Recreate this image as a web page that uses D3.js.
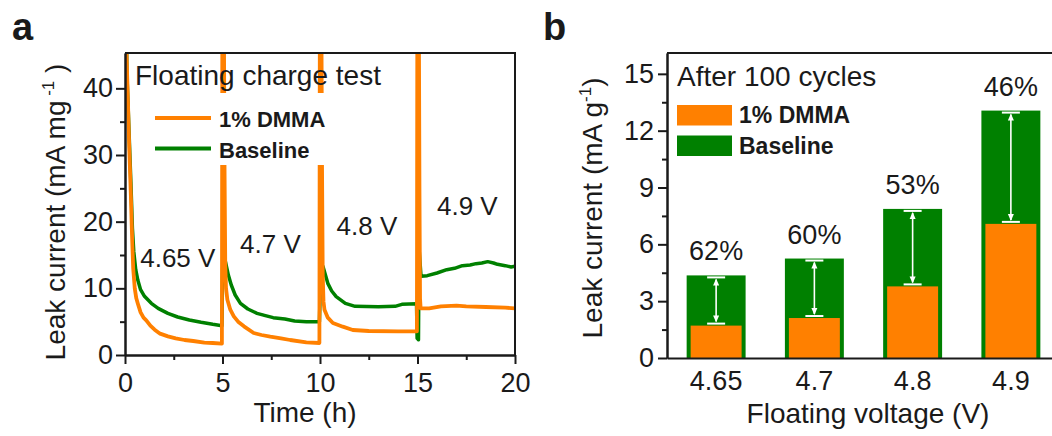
<!DOCTYPE html>
<html lang="en">

<head>
  <meta charset="utf-8">
  <title>Leak current</title>
  <style>
    body {
      margin: 0;
      background: #fff;
    }

    svg text {
      font-family: "Liberation Sans", Arial, sans-serif;
      fill: #1a1a1a;
    }

    .axis path,
    .axis line {
      fill: none;
      stroke: #1a1a1a;
      stroke-width: 2;
    }

    .axis text {
      font-size: 27px;
    }

    .frame {
      fill: none;
      stroke: #1a1a1a;
      stroke-width: 2;
    }
  </style>
</head>

<body>
  <div id="chart"></div>
</body>
<script src="https://d3js.org/d3.v7.min.js"></script>

<script>

  // panel a: leak current vs time (h), [time, current]
  let dmmaTrace = [
    [0.0, 80], [0.08, 45], [0.15, 38], [0.22, 31], [0.3, 24], [0.36, 18], [0.42, 13], [0.5, 10], [0.58, 8.5],
    [0.66, 7.7], [0.8, 6.4], [0.95, 5.6], [1.09, 5.2], [1.3, 4.4], [1.52, 3.8], [1.8, 3.2], [2.2, 2.8],
    [2.6, 2.5], [3.05, 2.25], [3.5, 2.1], [4.07, 1.85], [4.5, 1.8], [4.97, 1.7],
    [5.0, 70], [5.06, 60], [5.1, 30], [5.14, 14], [5.18, 10], [5.25, 8.3], [5.4, 6.8], [5.58, 5.8], [5.8, 5.0],
    [6.1, 4.3], [6.6, 3.3], [7.0, 3.0], [7.45, 2.75], [8.0, 2.5], [8.47, 2.25], [9.3, 1.9], [9.97, 1.8],
    [10.0, 70], [10.06, 60], [10.1, 30], [10.14, 12], [10.18, 8], [10.23, 6.8], [10.4, 5.6], [10.66, 4.8],
    [11.17, 4.25], [11.68, 3.75], [12.5, 3.6], [14.0, 3.55], [14.97, 3.55],
    [15.0, 70], [15.06, 60], [15.1, 25], [15.13, 8.5], [15.16, 7.0], [15.6, 7.0], [16.2, 7.3], [17.0, 7.4],
    [17.5, 7.3], [18.5, 7.2], [19.5, 7.1], [20, 7.0]
  ];

  let baselineTrace = [
    [0.02, 60], [0.1, 42], [0.2, 34], [0.3, 26], [0.38, 19], [0.45, 15.5], [0.55, 12.8], [0.66, 11.2],
    [0.8, 9.8], [1.0, 8.8], [1.35, 7.75], [1.7, 7.0], [2.2, 6.25], [2.7, 5.7], [3.3, 5.25], [3.9, 4.9],
    [4.5, 4.6], [4.97, 4.4],
    [5.02, 15.5], [5.15, 14], [5.3, 12], [5.45, 10.5], [5.65, 9.0], [5.92, 7.75], [6.3, 6.9], [6.77, 6.25],
    [7.2, 5.9], [7.6, 5.6], [8.2, 5.4], [8.7, 5.1], [9.3, 5.0], [9.97, 5.0],
    [10.05, 13.8], [10.15, 13.3], [10.4, 10.75], [10.6, 9.6], [10.83, 8.75], [11.3, 7.75], [11.8, 7.3],
    [13.0, 7.25], [13.85, 7.3], [14.2, 7.6], [14.95, 7.7],
    [14.98, 2.5], [15.05, 2.3], [15.08, 16.0], [15.18, 11.8], [15.5, 11.9], [16.0, 12.3], [16.5, 12.8],
    [16.9, 13.0], [17.3, 13.4], [17.7, 13.5], [18.0, 13.7], [18.3, 13.8], [18.6, 14.0], [18.9, 13.8],
    [19.1, 13.6], [19.5, 13.4], [19.8, 13.2], [20, 13.3]
  ];

  // step labels [time, current, text]
  let stepLabels = [
    [0.78, 13.2, "4.65 V"],
    [5.9, 15.3, "4.7 V"],
    [10.85, 18.0, "4.8 V"],
    [16.0, 21.0, "4.9 V"]
  ];

  let timeTicks = [0, 5, 10, 15, 20];
  let currentTicks = [0, 10, 20, 30, 40];

  // panel b: after 100 cycles
  let voltages = ["4.65", "4.7", "4.8", "4.9"];
  let dmmaLeak = [1.71, 2.11, 3.78, 7.08];
  let baselineLeak = [4.36, 5.25, 7.87, 13.06];
  let reductions = ["62%", "60%", "53%", "46%"];
  let leakTicks = [0, 3, 6, 9, 12, 15];

  let orange = "#ff8000";
  let green = "#008000";

  let svg = d3.select("#chart")
    .append("svg")
    .attr("width", 1052)
    .attr("height", 436);

  // ---------- panel a ----------
  let xa = d3.scaleLinear().domain([0, 20]).range([125, 515]);
  let ya = d3.scaleLinear().domain([0, 45.3]).range([355, 53]);

  svg.append("defs").append("clipPath").attr("id", "clipA")
    .append("rect")
    .attr("x", xa(0)).attr("y", ya(45.3))
    .attr("width", xa(20) - xa(0)).attr("height", ya(0) - ya(45.3));

  let line = d3.line()
    .x((d) => { return xa(d[0]) })
    .y((d) => { return ya(d[1]) });

  let curves = svg.append("g").attr("clip-path", "url(#clipA)");

  curves.append("path")
    .datum(baselineTrace)
    .attr("d", line)
    .attr("fill", "none")
    .attr("stroke", green)
    .attr("stroke-width", 3.5)
    .attr("stroke-linejoin", "round");

  curves.append("path")
    .datum(dmmaTrace)
    .attr("d", line)
    .attr("fill", "none")
    .attr("stroke", orange)
    .attr("stroke-width", 3.8)
    .attr("stroke-linejoin", "round");

  svg.append("g")
    .attr("class", "axis")
    .attr("transform", "translate(0," + ya(0) + ")")
    .call(d3.axisBottom(xa).tickValues([2.5, 7.5, 12.5, 17.5]).tickSize(5).tickSizeOuter(0).tickFormat(""));

  svg.append("g")
    .attr("class", "axis")
    .attr("transform", "translate(0," + ya(0) + ")")
    .call(d3.axisBottom(xa).tickValues(timeTicks).tickSize(9).tickSizeOuter(0).tickPadding(9));

  svg.append("g")
    .attr("class", "axis")
    .attr("transform", "translate(" + xa(0) + ",0)")
    .call(d3.axisLeft(ya).tickValues([5, 15, 25, 35]).tickSize(5).tickSizeOuter(0).tickFormat(""));

  svg.append("g")
    .attr("class", "axis")
    .attr("transform", "translate(" + xa(0) + ",0)")
    .call(d3.axisLeft(ya).tickValues(currentTicks).tickSize(9).tickSizeOuter(0).tickPadding(3));

  svg.append("path")
    .attr("class", "frame")
    .attr("d", "M" + xa(0) + "," + ya(45.3) + "H" + xa(20) + "V" + ya(0));

  // legend a
  svg.append("rect")
    .attr("x", 140).attr("y", 93).attr("width", 262).attr("height", 72)
    .attr("fill", "#fff");

  svg.append("text")
    .attr("x", 135).attr("y", 85)
    .style("font-size", "28px")
    .text("Floating charge test");

  let legA = [["1% DMMA", orange, 118], ["Baseline", green, 148.5]];
  legA.forEach((d) => {
    svg.append("line")
      .attr("x1", 155).attr("x2", 211)
      .attr("y1", d[2]).attr("y2", d[2])
      .attr("stroke", d[1]).attr("stroke-width", 4);
    svg.append("text")
      .attr("x", 219).attr("y", d[2] + 9)
      .style("font-size", "22px").style("font-weight", "bold")
      .text(d[0]);
  });

  svg.selectAll(".step")
    .data(stepLabels)
    .enter()
    .append("text")
    .attr("x", (d) => { return xa(d[0]) })
    .attr("y", (d) => { return ya(d[1]) })
    .style("font-size", "26px")
    .text((d) => { return d[2] });

  svg.append("text")
    .attr("x", 305).attr("y", 422)
    .attr("text-anchor", "middle")
    .style("font-size", "28px")
    .text("Time (h)");

  let ta = svg.append("text")
    .attr("transform", "translate(65,212) rotate(-90)")
    .attr("text-anchor", "middle")
    .style("font-size", "28px");
  ta.append("tspan").text("Leak current (mA mg");
  ta.append("tspan").attr("dy", -11).style("font-size", "17px").text(" -1");
  ta.append("tspan").attr("dy", 11).text(" )");

  svg.append("text")
    .attr("x", 12).attr("y", 40)
    .style("font-size", "38px").style("font-weight", "bold")
    .text("a");

  // ---------- panel b ----------
  let xb = d3.scaleBand().domain(voltages).range([667, 1060]).paddingInner(0.4).paddingOuter(0.2);
  let yb = d3.scaleLinear().domain([0, 16.1]).range([358, 53]);

  let bars = svg.append("g");

  bars.selectAll(".base")
    .data(voltages)
    .enter()
    .append("rect")
    .attr("x", (d) => { return xb(d) })
    .attr("y", (d, i) => { return yb(baselineLeak[i]) })
    .attr("width", xb.bandwidth())
    .attr("height", (d, i) => { return yb(0) - yb(baselineLeak[i]) })
    .attr("fill", green);

  bars.selectAll(".dmma")
    .data(voltages)
    .enter()
    .append("rect")
    .attr("x", (d) => { return xb(d) + 4 })
    .attr("y", (d, i) => { return yb(dmmaLeak[i]) })
    .attr("width", xb.bandwidth() - 8)
    .attr("height", (d, i) => { return yb(0) - yb(dmmaLeak[i]) })
    .attr("fill", orange);

  // white double arrows
  voltages.forEach((v, i) => {
    let cx = xb(v) + xb.bandwidth() / 2;
    let top = yb(baselineLeak[i]) + 2;
    let bot = yb(dmmaLeak[i]) - 2;
    bars.append("line")
      .attr("x1", cx - 9).attr("x2", cx + 9).attr("y1", top).attr("y2", top)
      .attr("stroke", "#fff").attr("stroke-width", 2);
    bars.append("line")
      .attr("x1", cx - 9).attr("x2", cx + 9).attr("y1", bot).attr("y2", bot)
      .attr("stroke", "#fff").attr("stroke-width", 2);
    bars.append("line")
      .attr("x1", cx).attr("x2", cx).attr("y1", top + 2).attr("y2", bot - 2)
      .attr("stroke", "#fff").attr("stroke-width", 1.6);
    bars.append("path")
      .attr("d", "M" + cx + "," + (top + 1) + "l-3,7h6z")
      .attr("fill", "#fff");
    bars.append("path")
      .attr("d", "M" + cx + "," + (bot - 1) + "l-3,-7h6z")
      .attr("fill", "#fff");
  });

  svg.selectAll(".pct")
    .data(reductions)
    .enter()
    .append("text")
    .attr("x", (d, i) => { return xb(voltages[i]) + xb.bandwidth() / 2 })
    .attr("y", (d, i) => { return yb(baselineLeak[i]) - 15 })
    .attr("text-anchor", "middle")
    .style("font-size", "27px")
    .text((d) => { return d });

  svg.append("g")
    .attr("class", "axis")
    .attr("transform", "translate(0," + yb(0) + ")")
    .call(d3.axisBottom(xb).tickSize(0).tickSizeOuter(0).tickPadding(13));

  svg.append("g")
    .attr("class", "axis")
    .attr("transform", "translate(667,0)")
    .call(d3.axisLeft(yb).tickValues([1.5, 4.5, 7.5, 10.5, 13.5]).tickSize(5).tickSizeOuter(0).tickFormat(""));

  svg.append("g")
    .attr("class", "axis")
    .attr("transform", "translate(667,0)")
    .call(d3.axisLeft(yb).tickValues(leakTicks).tickSize(9).tickSizeOuter(0).tickPadding(4));

  svg.append("path")
    .attr("class", "frame")
    .attr("d", "M667," + yb(16.1) + "H1060");

  // legend b
  svg.append("text")
    .attr("x", 677).attr("y", 86)
    .style("font-size", "28px")
    .text("After 100 cycles");

  let legB = [["1% DMMA", orange, 105], ["Baseline", green, 135.5]];
  legB.forEach((d) => {
    svg.append("rect")
      .attr("x", 677).attr("y", d[2]).attr("width", 55).attr("height", 20.5)
      .attr("fill", d[1]);
    svg.append("text")
      .attr("x", 739).attr("y", d[2] + 18)
      .style("font-size", "23px").style("font-weight", "bold")
      .text(d[0]);
  });

  svg.append("text")
    .attr("x", 868).attr("y", 423)
    .attr("text-anchor", "middle")
    .style("font-size", "28px")
    .text("Floating voltage (V)");

  let tb = svg.append("text")
    .attr("transform", "translate(602,208) rotate(-90)")
    .attr("text-anchor", "middle")
    .style("font-size", "28px");
  tb.append("tspan").text("Leak current (mA g");
  tb.append("tspan").attr("dy", -11).style("font-size", "17px").text("-1");
  tb.append("tspan").attr("dy", 11).text(")");

  svg.append("text")
    .attr("x", 543).attr("y", 40)
    .style("font-size", "38px").style("font-weight", "bold")
    .text("b");

</script>
